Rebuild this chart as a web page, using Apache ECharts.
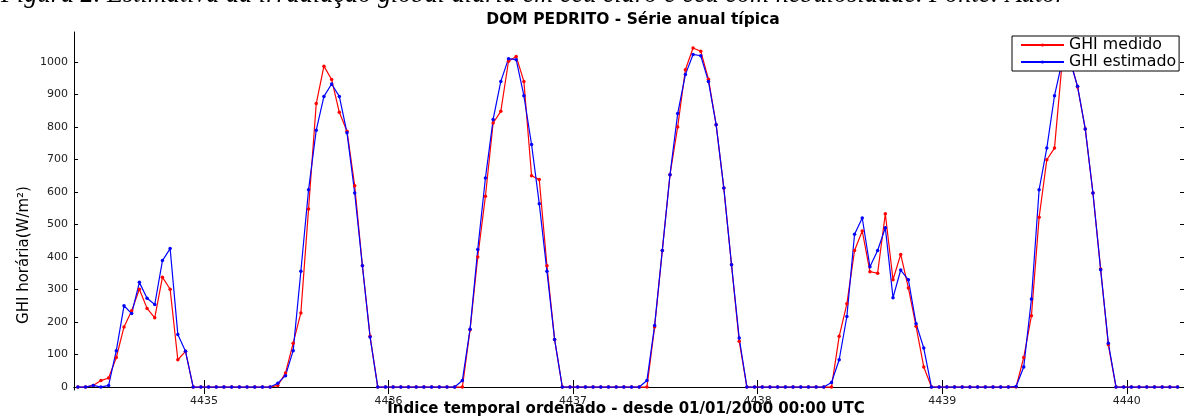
<!DOCTYPE html>
<html><head><meta charset="utf-8">
<script src="https://cdn.jsdelivr.net/npm/echarts@6/dist/echarts.min.js"></script>
<style>html,body{margin:0;padding:0;background:#fff}#c{width:1184px;height:416px}</style>
</head><body><div id="c"></div>
<script>
// ---- data ----
const captionText = 'Figura 2. Estimativa da irradiação global diária em céu claro e céu com nebulosidade. Fonte: Autor';
const chartTitle = 'DOM PEDRITO - Série anual típica';
const xAxisName = 'Índice temporal ordenado - desde 01/01/2000 00:00 UTC';
const yAxisName = 'GHI horária(W/m²)';
const seriesNames = ['GHI medido', 'GHI estimado'];
const xTicks = [4435, 4436, 4437, 4438, 4439, 4440];
const yTicks = [0, 100, 200, 300, 400, 500, 600, 700, 800, 900, 1000];
const firstIndex = 4434.31667;   // time index of first hourly sample (days)
const hoursPerDay = 24;
const medido = [
  0, 0, 5, 20, 28, 91, 185, 235, 301, 242, 213, 338, 301, 84, 110, 0,
  0, 0, 0, 0, 0, 0, 0, 0,
  0, 0, 5, 43, 135, 228, 548, 872, 987, 946, 845, 787, 619, 373, 156, 0,
  0, 0, 0, 0, 0, 0, 0, 0, 0, 0,
  0, 176, 400, 587, 812, 848, 1002, 1017, 940, 650, 638, 373, 146, 0,
  0, 0, 0, 0, 0, 0, 0, 0, 0, 0,
  0, 185, 420, 653, 800, 976, 1043, 1033, 947, 807, 612, 376, 141, 0,
  0, 0, 0, 0, 0, 0, 0, 0, 0, 0,
  0, 156, 256, 420, 480, 355, 350, 533, 330, 408, 305, 187, 62, 0,
  0, 0, 0, 0, 0, 0, 0, 0, 0, 0,
  0, 91, 219, 522, 699, 735, 1000, 1010, 923, 794, 597, 363, 130, 0,
  0, 0, 0, 0, 0, 0, 0, 0
];
const estimado = [
  0, 0, 5, 0, 5, 112, 250, 226, 322, 273, 254, 389, 426, 162, 110, 0,
  0, 0, 0, 0, 0, 0, 0, 0,
  0, 0, 12, 35, 112, 356, 607, 790, 894, 932, 894, 782, 597, 373, 154, 0,
  0, 0, 0, 0, 0, 0, 0, 0, 0, 0,
  20, 178, 423, 643, 823, 940, 1010, 1007, 896, 746, 564, 356, 146, 0,
  0, 0, 0, 0, 0, 0, 0, 0, 0, 0,
  20, 189, 420, 653, 841, 961, 1023, 1019, 940, 807, 612, 376, 151, 0,
  0, 0, 0, 0, 0, 0, 0, 0, 0, 0,
  14, 84, 217, 470, 520, 370, 420, 490, 275, 360, 330, 195, 120, 0,
  0, 0, 0, 0, 0, 0, 0, 0, 0, 0,
  2, 62, 271, 607, 735, 896, 1002, 1005, 925, 794, 597, 361, 135, 0,
  0, 0, 0, 0, 0, 0, 0, 0
];

// ---- chart ----
const timeIndex = medido.map((_, i) => firstIndex + i / hoursPerDay);
const xMin = 4434.2958, xMax = 4440.310, yMin = -9, yMax = 1092;
const FONT = 'DejaVu Sans';
const chart = echarts.init(document.getElementById('c'), null, {renderer: 'canvas'});

const axisLine = {show: true, lineStyle: {color: '#000', width: 1}};
const plain = v => String(v);
function xAx(pos, labels) {
  return {
    type: 'value', position: pos, min: xMin, max: xMax,
    axisLine: axisLine,
    axisTick: {show: true, inside: true, length: 7, customValues: xTicks, lineStyle: {color: '#000'}},
    axisLabel: {show: labels, customValues: xTicks, formatter: plain, margin: 6, fontFamily: FONT, fontSize: 11, color: '#222'},
    splitLine: {show: false}
  };
}
function yAx(pos, labels) {
  return {
    type: 'value', position: pos, min: yMin, max: yMax,
    axisLine: axisLine,
    axisTick: {show: true, inside: true, length: 4, customValues: yTicks, lineStyle: {color: '#000'}},
    axisLabel: {show: labels, customValues: yTicks, formatter: plain, margin: 6, fontFamily: FONT, fontSize: 11, color: '#222'},
    splitLine: {show: false}
  };
}
function mkSeries(name, vals, color) {
  return {
    name: name, type: 'line', xAxisIndex: 0, yAxisIndex: 0,
    data: timeIndex.map((t, i) => [t, vals[i]]),
    symbol: 'circle', symbolSize: 3.5, showSymbol: true,
    lineStyle: {color: color, width: 1.2},
    itemStyle: {color: color},
    emphasis: {disabled: true}, animation: false
  };
}

chart.setOption({
  animation: false,
  backgroundColor: '#fff',
  grid: {left: 74, right: -1, top: 32, bottom: 26, containLabel: false},
  xAxis: [xAx('bottom', true), xAx('top', false)],
  yAxis: [yAx('left', true), yAx('right', false)],
  legend: {
    data: seriesNames, orient: 'vertical', left: 1012, top: 36,
    itemWidth: 43, itemHeight: 4, itemGap: 1,
    padding: [1, 3, 1, 8],
    borderColor: '#000', borderWidth: 1, backgroundColor: '#fff',
    textStyle: {fontFamily: FONT, fontSize: 15.8, color: '#000'}
  },
  series: [mkSeries(seriesNames[0], medido, '#ff0000'), mkSeries(seriesNames[1], estimado, '#0000ff')],
  graphic: [
    {type: 'text', x: 1, y: -4.5, silent: true,
     style: {text: captionText, font: 'italic 26.3px "Liberation Serif"', fill: '#000', align: 'left', verticalAlign: 'middle'}},
    {type: 'text', x: 633, y: 20, silent: true,
     style: {text: chartTitle, font: 'bold 15.5px "DejaVu Sans"', fill: '#000', align: 'center', verticalAlign: 'middle'}},
    {type: 'text', x: 626, y: 409.5, silent: true,
     style: {text: xAxisName, font: 'bold 15px "DejaVu Sans"', fill: '#000', align: 'center', verticalAlign: 'middle'}},
    {type: 'text', x: 24, y: 255, rotation: Math.PI / 2, silent: true,
     style: {text: yAxisName, font: '15px "DejaVu Sans"', fill: '#000', align: 'center', verticalAlign: 'middle'}}
  ]
});
</script></body></html>
